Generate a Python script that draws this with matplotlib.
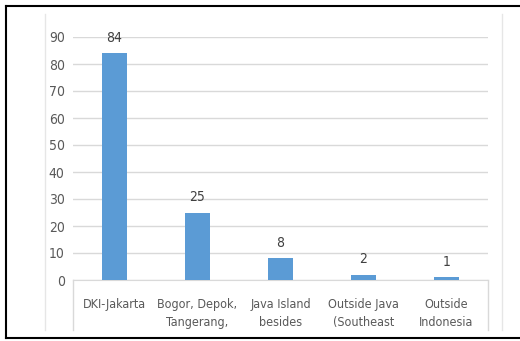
import matplotlib
matplotlib.use("Agg")
import matplotlib.pyplot as plt
from matplotlib.lines import Line2D

categories = ["DKI-Jakarta", "Bogor, Depok,\nTangerang,", "Java Island\nbesides",
              "Outside Java\n(Southeast", "Outside\nIndonesia"]
values = [84, 25, 8, 2, 1]
yticks = [0, 10, 20, 30, 40, 50, 60, 70, 80, 90]

plt.rcParams["font.family"] = ["DejaVu Sans"]
plt.rcParams["font.stretch"] = "condensed"

W, H = 520, 341
fig = plt.figure(figsize=(W / 100, H / 100), dpi=100)

def fx(x):
    return x / W

def fy(y):
    return 1 - y / H

# plot area in pixel coords
x0, x1 = 73, 488
y_top, y_bot = 37, 280
ax = fig.add_axes([fx(x0), fy(y_bot), fx(x1) - fx(x0), fy(y_top) - fy(y_bot)])

grid_col = "#d9d9d9"
ax.bar(range(len(values)), values, width=0.31, color="#5b9bd5", zorder=3)
ax.set_xlim(-0.5, len(values) - 0.5)
ax.set_ylim(0, 90)
ax.set_yticks(yticks)
ax.yaxis.grid(True, color=grid_col, lw=1)
ax.set_axisbelow(True)
for s in ["top", "right", "left"]:
    ax.spines[s].set_visible(False)
ax.spines["bottom"].set_color(grid_col)
ax.tick_params(axis="y", length=0, pad=6, labelsize=10, labelcolor="#595959")
ax.tick_params(axis="x", length=0, pad=13, labelsize=9, labelcolor="#595959")
ax.set_xticks(range(len(values)))
ax.set_xticklabels(categories, linespacing=1.45, va="top")

for i, v in enumerate(values):
    ax.annotate(str(v), (i, v), xytext=(0, 6), textcoords="offset points",
                ha="center", va="bottom", fontsize=10, color="#404040")

# category axis edges
for x in (x0, x1):
    fig.add_artist(Line2D([fx(x), fx(x)], [fy(y_bot), fy(330)], color=grid_col, lw=1))

# chart frame edges
for x in (45, 502):
    fig.add_artist(Line2D([fx(x), fx(x)], [fy(14), fy(330)], color="#e6e6e6", lw=1))

# black border
fig.add_artist(Line2D([fx(6), 1], [fy(6), fy(6)], color="black", lw=1.5))
fig.add_artist(Line2D([fx(6), fx(6)], [fy(6), fy(338)], color="black", lw=1.5))
fig.add_artist(Line2D([fx(6), 1], [fy(338), fy(338)], color="black", lw=1.5))

fig.savefig("out.png", dpi=100)
